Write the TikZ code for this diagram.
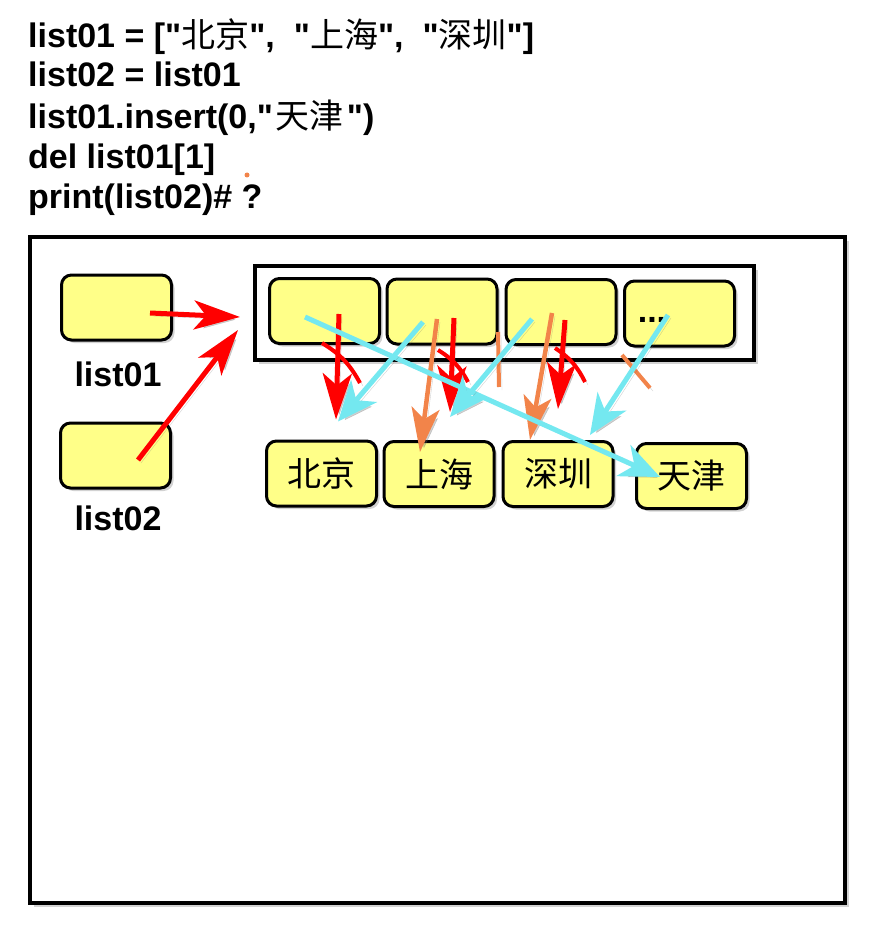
\documentclass[tikz,border=0pt]{standalone}
\usepackage{fontspec}
\setmainfont{Liberation Sans}[Ligatures=TeXOff]
\newfontfamily\cjk{Noto Sans CJK SC}
\usepackage{xcolor}
\usetikzlibrary{arrows.meta,calc,shadows}
\definecolor{boxyellow}{HTML}{FFFF88}
\definecolor{arrred}{HTML}{FF0000}
\definecolor{arrcyan}{HTML}{74E8F0}
\definecolor{arrorange}{HTML}{F2844A}

\begin{document}
\begin{tikzpicture}[x=1pt,y=-1pt,
  cell/.style={draw,line width=3pt,rounded corners=10pt,fill=boxyellow,minimum width=110pt,minimum height=65pt,inner sep=0pt,
    drop shadow={opacity=0.35,shadow xshift=3pt,shadow yshift=-3pt}},
  frame/.style={draw,line width=4pt,fill=white,inner sep=0pt,
    drop shadow={opacity=0.35,shadow xshift=4pt,shadow yshift=-4pt}},
  code/.style={anchor=base west,inner sep=0pt,font=\fontsize{34}{40}\selectfont\bfseries},
  city/.style={cell,font=\cjk\fontsize{34}{34}\selectfont},
  shade/.style={preaction={draw=black!60,opacity=0.3,transform canvas={shift={(3pt,-3pt)}}}},
  redarr/.style={arrred,line width=5pt,shade,-{Stealth[length=46pt,width=29pt,inset=12pt]}},
  orgarr/.style={arrorange,line width=4.5pt,shade,-{Stealth[length=44pt,width=28pt,inset=11pt]}},
  cyanarr/.style={arrcyan,line width=5pt,shade,-{Stealth[length=40pt,width=34pt,inset=12pt]}},
  redcut/.style={arrred,line width=4pt,shade},
  orgcut/.style={arrorange,line width=4pt,shade}]
\useasboundingbox (0,0) rectangle (876,933);
% code lines
\node[code] (l1) at (28,48) {list01 = ["{\cjk\mdseries 北京}",\hspace{19pt}"{\cjk\mdseries 上海}",\hspace{19pt}"{\cjk\mdseries 深圳}"]};
\node[code] (l2) at (28,87) {list02 = list01};
\node[code] (l3) at (28,129) {list01.insert(0,"\hspace{3pt}{\cjk\mdseries 天津}\hspace{3pt}")};
\node[code] (l4) at (28,169) {del list01[1]};
\node[code] (l5) at (28,208) {print(list02)\# ?};
\fill[arrorange] (247,175) circle (2.5pt);
% memory
\node[frame,minimum width=815pt,minimum height=666pt] (mem) at (437.5,570) {};
\node[frame,minimum width=499pt,minimum height=94pt] (arr) at (504.5,313) {};
\node[cell] (c1) at (324.5,311) {};
\node[cell] (c2) at (442,311.5) {};
\node[cell] (c3) at (561,312) {};
\node[cell] (c4) at (679.5,313.5) {};
\node[code,anchor=base] (dots) at (652,322) {...};
\node[cell] (v1) at (116.5,307.5) {};
\node[cell] (v2) at (115.5,455.5) {};
\node[code,anchor=base] (n1) at (118,386) {list01};
\node[code,anchor=base] (n2) at (118,530) {list02};
\node[city] (bj) at (321.5,473.5) {北京};
\node[city] (sh) at (439,474) {上海};
\node[city] (sz) at (558,474) {深圳};
\node[city] (tj) at (691.5,476) {天津};
% references
\draw[redarr] ($(v1)+(33.5,5.5)$) -- ($(arr.west)+(-13,4)$);
\draw[redarr] ($(v2)+(22.5,4.5)$) -- ($(arr.west)+(-15,17)$);
\draw[redarr] ($(c1)+(14.5,3)$) -- ($(bj.north)+(14.5,-20)$);
\draw[redarr] ($(c2)+(12,6.5)$) -- ($(sh.north)+(11,-28)$);
\draw[redarr] ($(c3)+(4,8)$) -- ($(sz.north)+(0,-31)$);
\draw[redcut] ($(c1)+(-2.5,32)$) to[bend left=15] ($(c1)+(35.5,72)$);
\draw[redcut] ($(c2)+(-4,38.5)$) to[bend left=15] ($(c2)+(26,70.5)$);
\draw[redcut] ($(c3)+(-6,36)$) to[bend left=15] ($(c3)+(24,70)$);
\draw[orgarr] ($(c2)+(-5,7.5)$) -- ($(sh.north)+(-19,12)$);
\draw[orgarr] ($(c3)+(-9,1)$) -- ($(sz.north)+(-28,0)$);
\draw[orgcut] ($(c2)+(56,20.5)$) -- ($(c2)+(57,75.5)$);
\draw[orgcut] ($(c4)+(-57.5,41.5)$) -- ($(c4)+(-29.5,74.5)$);
\draw[cyanarr] ($(c1)+(-19.5,6)$) -- ($(tj)+(-31.5,1)$);
\draw[cyanarr] ($(c2)+(-19,10.5)$) -- ($(bj.north)+(16.5,-18)$);
\draw[cyanarr] ($(c3)+(-29,7)$) -- ($(sh.north)+(11,-23)$);
\draw[cyanarr] ($(c4)+(-11.5,1.5)$) -- ($(sz.north)+(32,-5)$);
\end{tikzpicture}
\end{document}
